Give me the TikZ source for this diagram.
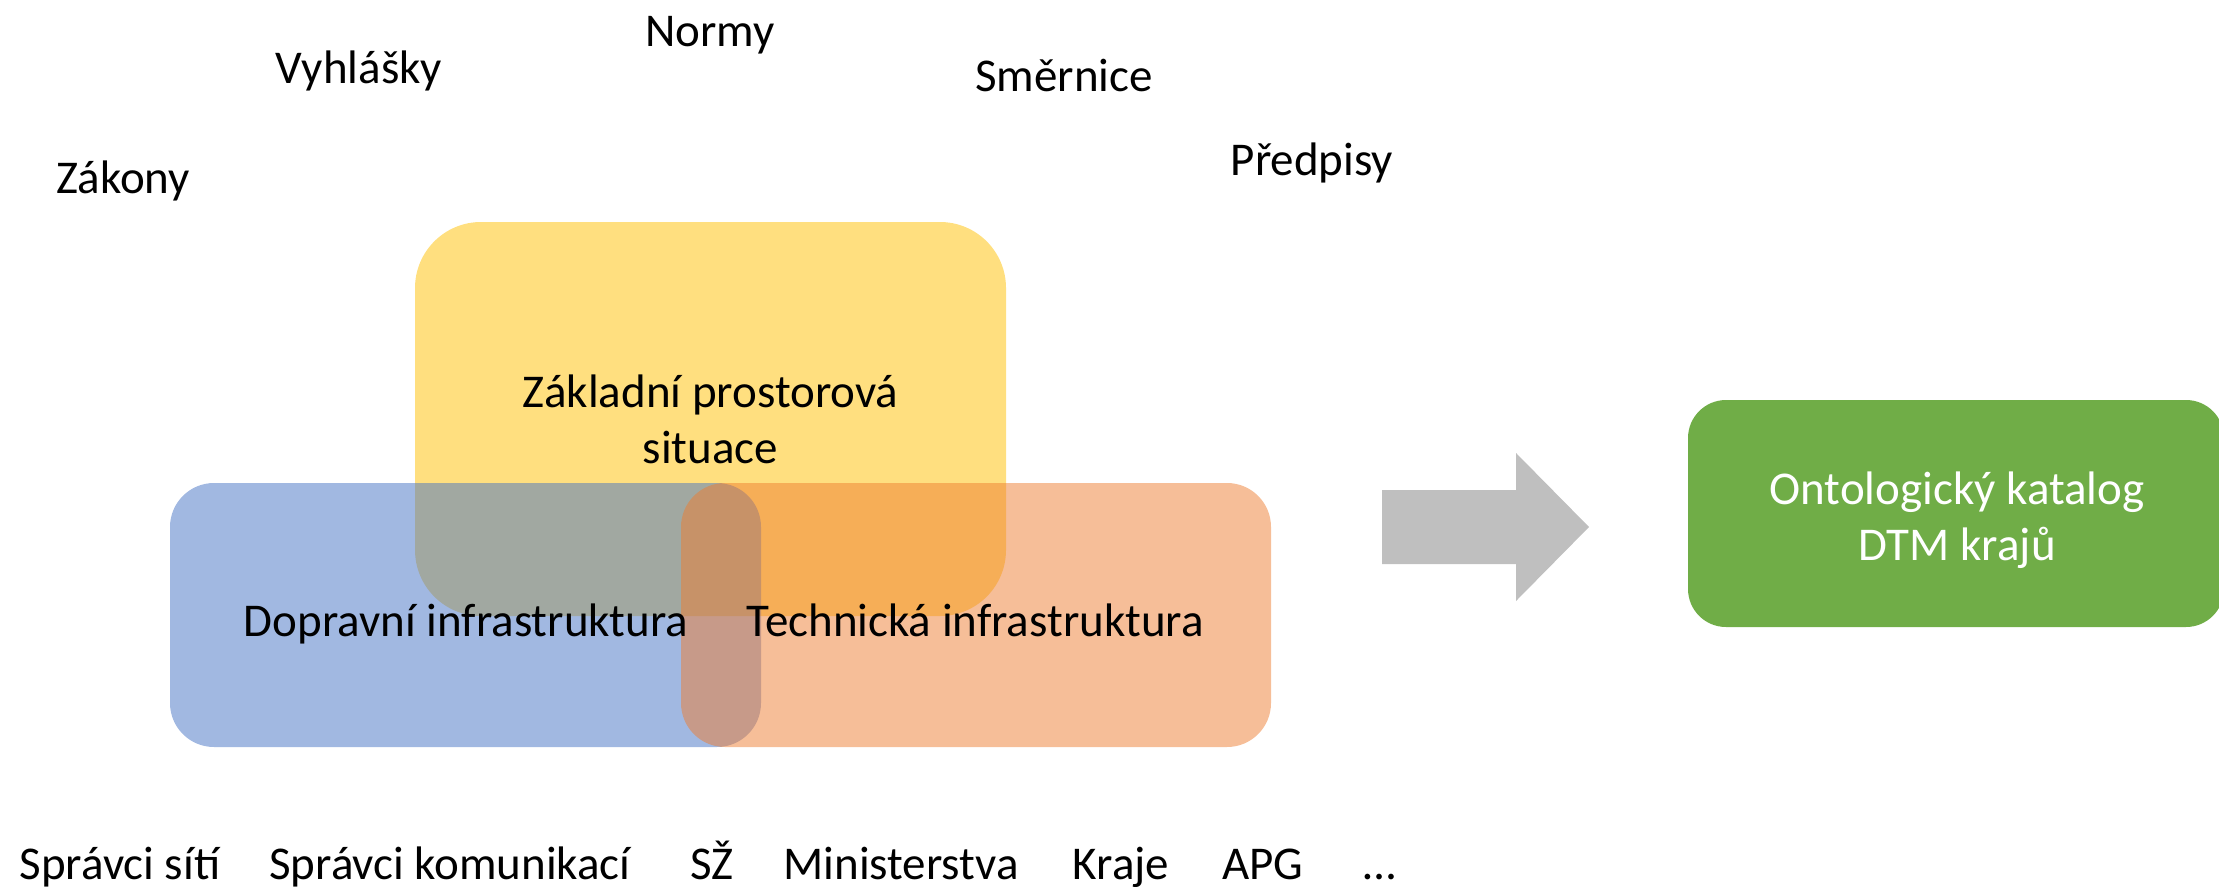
\documentclass[tikz,border=0pt]{standalone}
\usepackage{fontspec}
\setmainfont{Carlito}
\definecolor{cyel}{HTML}{FFC000}
\definecolor{cblue}{HTML}{4472C4}
\definecolor{corange}{HTML}{ED7D31}
\definecolor{cgreen}{HTML}{70AD47}
\definecolor{cgray}{HTML}{BFBFBF}
\tikzset{
  area/.style={draw=none, fill opacity=0.5, rectangle, inner sep=0pt},
  lbl/.style={font=\fontsize{47}{56}\selectfont, text=black, align=center, inner sep=0pt},
  word/.style={lbl, anchor=base},
}
\begin{document}
\begin{tikzpicture}[x=1pt,y=-1pt]
\useasboundingbox (0,0) rectangle (2219,886);
% areas
\node[area, fill=cyel, minimum width=591pt, minimum height=394pt, rounded corners=66pt] (yel) at (710.5,419) {};
\node[area, fill=cblue, minimum width=591pt, minimum height=264pt, rounded corners=44pt] (blue) at (465.5,615) {};
\node[area, fill=corange, minimum width=590pt, minimum height=264pt, rounded corners=44pt] (orange) at (976,615) {};
\node[draw=none, fill=cgreen, minimum width=536pt, minimum height=227pt, rounded corners=38pt, inner sep=0pt] (green) at (1956,513.5) {};
% arrow
\fill[cgray] (1382,490) coordinate (a1) -- (1516,490) -- (1516,453) -- (1589,527) coordinate (atip) -- (1516,601) -- (1516,564) -- (1382,564) -- cycle;
% labels
\node[lbl] (tyel) at (yel.center) {Základní prostorová\\situace};
\node[word] (tblue) at (466,636) {Dopravní infrastruktura};
\node[word] (torange) at (975,636) {Technická infrastruktura};
\node[lbl, text=white] (tgreen) at (1957,520) {Ontologický katalog\\DTM krajů};
% top words
\node[word] (normy) at (710,46) {Normy};
\node[word] (vyhl) at (359,83) {Vyhlášky};
\node[word] (smer) at (1064,91) {Směrnice};
\node[word] (zak) at (123,193) {Zákony};
\node[word] (pred) at (1312,175) {Předpisy};
% bottom words
\node[word] (b1) at (120,879) {Správci sítí};
\node[word] (b2) at (450,879) {Správci komunikací};
\node[word] (b3) at (712,879) {SŽ};
\node[word] (b4) at (901,879) {Ministerstva};
\node[word] (b5) at (1121,879) {Kraje};
\node[word] (b6) at (1263,879) {APG};
\node[word] (b7) at (1380,879) {…};
\end{tikzpicture}
\end{document}
